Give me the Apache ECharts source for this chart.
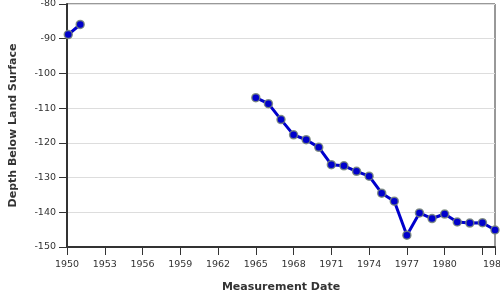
<!DOCTYPE html>
<html>
<head>
<meta charset="utf-8">
<script src="https://cdn.jsdelivr.net/npm/echarts@6/dist/echarts.min.js"></script>
<style>
html,body{margin:0;padding:0;background:#fff;}
#chart{width:500px;height:300px;}
</style>
</head>
<body>
<div id="chart"></div>
<script>
var years = [1950.1, 1951.05, 1965, 1966, 1967, 1968, 1969, 1970, 1971, 1972, 1973, 1974, 1975, 1976, 1977, 1978, 1979, 1980, 1981, 1982, 1983, 1984];
var depths = [-88.8, -85.9, -107.0, -108.7, -113.3, -117.7, -119.1, -121.3, -126.3, -126.6, -128.2, -129.6, -134.5, -136.8, -146.6, -140.2, -141.8, -140.5, -142.8, -143.1, -143.0, -145.1];
var xTicks = { min: 1950, max: 1984, step: 3 };
var yTicks = { min: -150, max: -80, step: 10 };

var data = [];
for (var i = 0; i < years.length; i++) {
  if (i > 0 && years[i] - years[i - 1] > 3) {
    data.push([(years[i] + years[i - 1]) / 2, null]);
  }
  data.push([years[i], depths[i]]);
}

var font = 'DejaVu Sans';
var chart = echarts.init(document.getElementById('chart'));
chart.setOption({
  animation: false,
  backgroundColor: '#fff',
  grid: { left: 67, right: 5, top: 4, bottom: 53, containLabel: false, outerBoundsMode: 'none', show: true, borderColor: '#333', borderWidth: 1, backgroundColor: 'transparent' },
  xAxis: {
    type: 'value',
    min: xTicks.min, max: xTicks.max, interval: xTicks.step,
    name: 'Measurement Date', nameLocation: 'middle', nameGap: 35,
    nameTextStyle: { fontFamily: font, fontSize: 11, fontWeight: 'bold', color: '#333' },
    axisLine: { show: true, lineStyle: { color: '#333', width: 2 } },
    axisTick: { show: true, length: 8, lineStyle: { color: '#333' } },
    axisLabel: {
      fontFamily: font, fontSize: 9.5, color: '#333', margin: 13,
      showMinLabel: true, showMaxLabel: true, hideOverlap: false,
      formatter: function (v) {
        if (v > 1980 && v < 1984) return '';
        return String(Math.round(v));
      }
    },
    splitLine: { show: false }
  },
  yAxis: {
    type: 'value',
    min: yTicks.min, max: yTicks.max, interval: yTicks.step,
    name: 'Depth Below Land Surface', nameLocation: 'middle', nameGap: 48,
    nameTextStyle: { fontFamily: font, fontSize: 11, fontWeight: 'bold', color: '#333' },
    axisLine: { show: true, lineStyle: { color: '#333', width: 2 } },
    axisTick: { show: true, length: 8, lineStyle: { color: '#333' } },
    axisLabel: { fontFamily: font, fontSize: 9.5, color: '#333', margin: 11 },
    splitLine: { show: true, lineStyle: { color: '#ddd', width: 1 } }
  },
  series: [{
    type: 'line',
    data: data,
    connectNulls: false,
    symbol: 'circle',
    symbolSize: 8,
    showAllSymbol: true,
    clip: false,
    lineStyle: { color: '#0000cc', width: 3 },
    itemStyle: { color: '#0000cc', borderColor: 'rgba(120,135,120,0.85)', borderWidth: 1.5 }
  }]
});
</script>
</body>
</html>
